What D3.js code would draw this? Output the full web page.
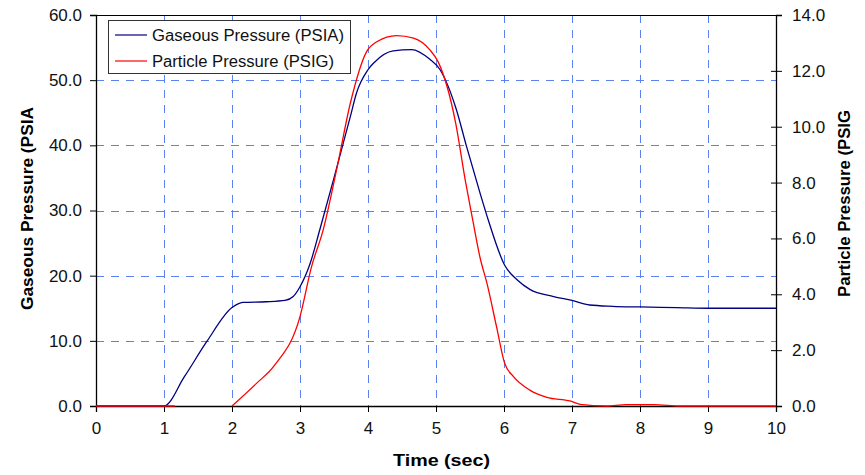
<!DOCTYPE html>
<html><head><meta charset="utf-8">
<script src="https://cdn.jsdelivr.net/npm/d3@7"></script>
<style>body{margin:0;background:#fff}svg{display:block}text{font-family:"Liberation Sans",Arial,sans-serif}</style>
</head><body>
<svg id="c" width="865" height="475"></svg>
<script>
// ---- data ----
const gasTime = [0,1,1.3,1.63,2.0,2.16,2.5,2.78,2.9,3.0,3.15,3.29,3.5,3.74,3.83,4.0,4.1,4.37,4.64,4.91,5.06,5.29,5.45,5.65,5.77,6.01,6.2,6.38,6.73,7.0,7.26,7.6,8.0,8.54,9,10];
const gasValue = [0,0,4.5,9.9,15.1,15.9,16.0,16.2,16.8,18.3,21.9,27.0,35.0,44.4,48.0,51.6,52.8,54.5,54.7,53.2,51.6,45.8,39.8,32.6,28.5,21.6,19.3,17.9,16.8,16.2,15.5,15.3,15.2,15.1,15.0,15.0];
const partTime = [0,1.16,null,2.0,2.36,2.63,3.0,3.17,3.34,3.55,3.74,3.98,4.13,4.42,4.67,4.91,5.03,5.29,5.43,5.54,5.65,5.75,5.89,6.01,6.14,6.38,6.63,6.97,7.12,7.5,7.8,8.2,8.6,10];
const partValue = [0,0,null,0,0.81,1.47,3.2,4.99,6.3,8.6,10.84,12.69,13.04,13.26,13.17,12.75,12.33,10.12,8.09,6.66,5.29,4.39,2.84,1.53,1.05,0.57,0.31,0.18,0.06,0.0,0.05,0.05,0.0,0.0];
const xTicks = [0,1,2,3,4,5,6,7,8,9,10];
const yLeftTicks = [0,10,20,30,40,50,60];
const yRightTicks = [0,2,4,6,8,10,12,14];
const seriesNames = ["Gaseous Pressure (PSIA)","Particle Pressure (PSIG)"];

const svg = d3.select("#c");
const L=96,R=776,T=15,B=406;
const x = d3.scaleLinear().domain([0,10]).range([L,R]);
const yL = d3.scaleLinear().domain([0,60]).range([B,T]);
const yR = d3.scaleLinear().domain([0,14]).range([B,T]);
const gridColor="#5a82f0";
const px = v => Math.round(v)+0.5;

// grid
svg.append("g").selectAll("line").data(xTicks.filter(d=>d>0&&d<10)).join("line")
 .attr("x1",d=>px(x(d))).attr("x2",d=>px(x(d))).attr("y1",T).attr("y2",B)
 .attr("stroke",gridColor).attr("stroke-width",1).attr("stroke-dasharray","8,7");
svg.append("g").selectAll("line").data(yLeftTicks.filter(d=>d>0&&d<60)).join("line")
 .attr("x1",L).attr("x2",R).attr("y1",d=>px(yL(d))).attr("y2",d=>px(yL(d)))
 .attr("stroke",gridColor).attr("stroke-width",1).attr("stroke-dasharray","8,7");
// top border
svg.append("line").attr("x1",L).attr("x2",R).attr("y1",T+0.5).attr("y2",T+0.5).attr("stroke","#000");

// axes
const fmt = d3.format(".1f");
const gx = svg.append("g").attr("transform",`translate(0,${B})`)
 .call(d3.axisBottom(x).tickValues(xTicks).tickFormat(d3.format("d")).tickSize(6).tickPadding(10));
const gl = svg.append("g").attr("transform",`translate(${L},0)`)
 .call(d3.axisLeft(yL).tickValues(yLeftTicks).tickFormat(fmt).tickSize(6).tickPadding(8));
const gr = svg.append("g").attr("transform",`translate(${R},0)`)
 .call(d3.axisRight(yR).tickValues(yRightTicks).tickFormat(fmt).tickSize(6).tickPadding(10));
gr.selectAll(".tick line").attr("x1",-5);
[gx,gl,gr].forEach(g=>{
  g.select(".domain").attr("stroke","#000").attr("stroke-width",1.3);
  g.selectAll(".tick line").attr("stroke","#000");
  g.selectAll(".tick text").attr("font-size",17).attr("fill","#111").style("font-family","Liberation Sans, Arial, sans-serif");
});

// series
const gasData = gasTime.map((t,i)=>({t,v:gasValue[i]}));
const partData = partTime.map((t,i)=>({t,v:partValue[i]}));
svg.append("path").datum(gasData).attr("fill","none").attr("stroke","#000080").attr("stroke-width",1.3)
 .attr("d",d3.line().x(d=>x(d.t)).y(d=>yL(d.v)).curve(d3.curveMonotoneX));
svg.append("path").datum(partData).attr("fill","none").attr("stroke","#ff0000").attr("stroke-width",1.3)
 .attr("d",d3.line().defined(d=>d.t!==null).x(d=>x(d.t)).y(d=>yR(d.v)).curve(d3.curveMonotoneX));

// legend
const lg = svg.append("g");
lg.append("rect").attr("x",108.5).attr("y",20.5).attr("width",242).attr("height",53)
 .attr("fill","#fff").attr("stroke","#333").attr("stroke-width",1);
const lc=["#000080","#ff0000"];
const lw=[192,182];
seriesNames.forEach((n,i)=>{
  const yy=35+i*26;
  lg.append("line").attr("x1",115).attr("x2",147).attr("y1",yy).attr("y2",yy).attr("stroke",lc[i]).attr("stroke-width",1.2);
  lg.append("text").attr("x",152).attr("y",yy+5.5).attr("font-size",16).attr("fill","#111")
    .attr("textLength",lw[i]).attr("lengthAdjust","spacingAndGlyphs").text(n);
});

// titles
svg.append("text").attr("x",441.5).attr("y",466).attr("text-anchor","middle").attr("font-size",16).attr("font-weight","bold")
 .attr("textLength",97).attr("lengthAdjust","spacingAndGlyphs").text("Time (sec)");
svg.append("text").attr("transform","translate(33,208.5) rotate(-90)").attr("text-anchor","middle").attr("font-size",16).attr("font-weight","bold")
 .attr("textLength",203).attr("lengthAdjust","spacingAndGlyphs").text("Gaseous Pressure (PSIA");
svg.append("text").attr("transform","translate(850,203.5) rotate(-90)").attr("text-anchor","middle").attr("font-size",16).attr("font-weight","bold")
 .attr("textLength",187).attr("lengthAdjust","spacingAndGlyphs").text("Particle Pressure (PSIG");
</script>
</body></html>
